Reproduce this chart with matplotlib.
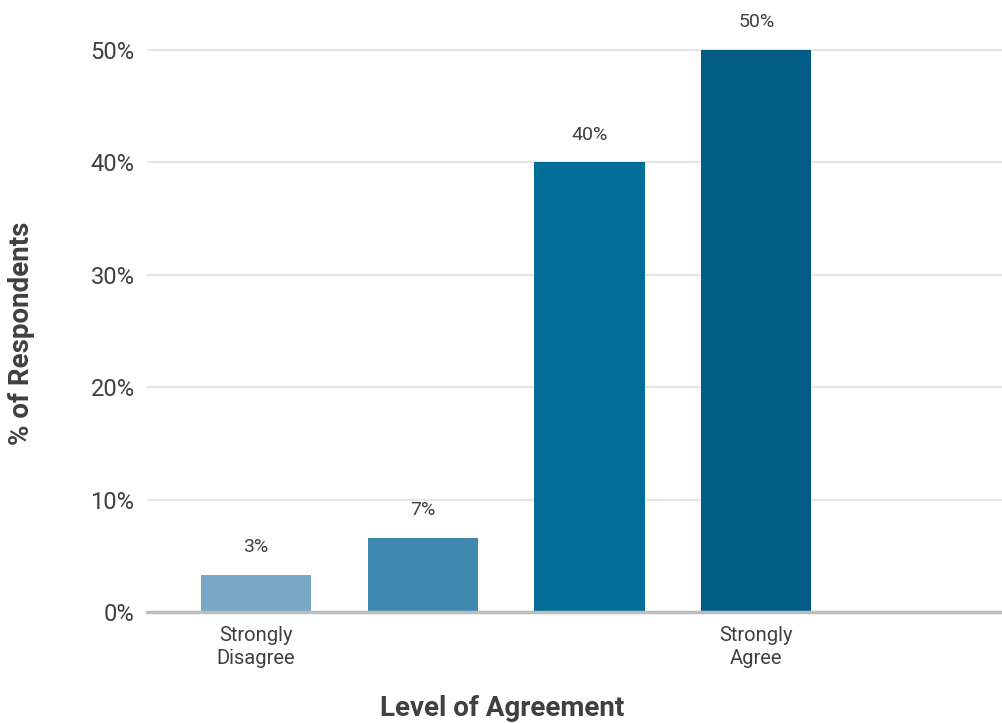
import matplotlib
matplotlib.use("Agg")
import matplotlib.pyplot as plt

# survey responses
categories = ["Strongly\nDisagree", "", "", "Strongly\nAgree"]
values = [3.3, 6.6, 40.0, 50.0]
colors = ["#78a8c6", "#3f89b0", "#006e98", "#005c85"]
yticks = [0, 10, 20, 30, 40, 50]

plt.rcParams['font.family'] = ['Roboto', 'DejaVu Sans']
txt = "#404040"

fig = plt.figure(figsize=(10.03, 7.23), dpi=100)
ax = fig.add_axes([147 / 1003, 111 / 723, 1 - 147 / 1003, 612 / 723])

x = range(len(values))
bars = ax.bar(x, values, width=0.66, color=colors, zorder=2)

for b, v in zip(bars, values):
    ax.annotate(f"{v:.0f}%", (b.get_x() + b.get_width() / 2, v),
                xytext=(0, 20), textcoords="offset points",
                ha="center", va="center", fontsize=14, color=txt)

ax.set_xlim(-0.654, 4.48)
ax.set_ylim(0, 50 * 612 / 562)
ax.set_yticks(yticks)
ax.set_yticklabels([f"{t}%" for t in yticks], fontsize=17, color=txt)
ax.set_xticks(list(x))
ax.set_xticklabels(categories, fontsize=14.5, color=txt, linespacing=1.25)
ax.tick_params(axis="both", length=0)
ax.tick_params(axis="y", pad=9)
ax.tick_params(axis="x", pad=10)

ax.grid(axis="y", color="#e6e6e6", linewidth=1.5, zorder=0)
ax.set_axisbelow(True)
for s in ["top", "right", "left"]:
    ax.spines[s].set_visible(False)
ax.spines["bottom"].set_color("#bdbdbd")
ax.spines["bottom"].set_linewidth(2.5)
ax.spines["bottom"].set_zorder(3)

fig.text(502 / 1003, 1 - 708 / 723, "Level of Agreement", ha="center", va="center",
         fontsize=20, fontweight="bold", color=txt)
fig.text(22 / 1003, 1 - 333 / 723, "% of Respondents", ha="center", va="center",
         rotation=90, fontsize=20, fontweight="bold", color=txt)

fig.savefig("out.png", dpi=100)
